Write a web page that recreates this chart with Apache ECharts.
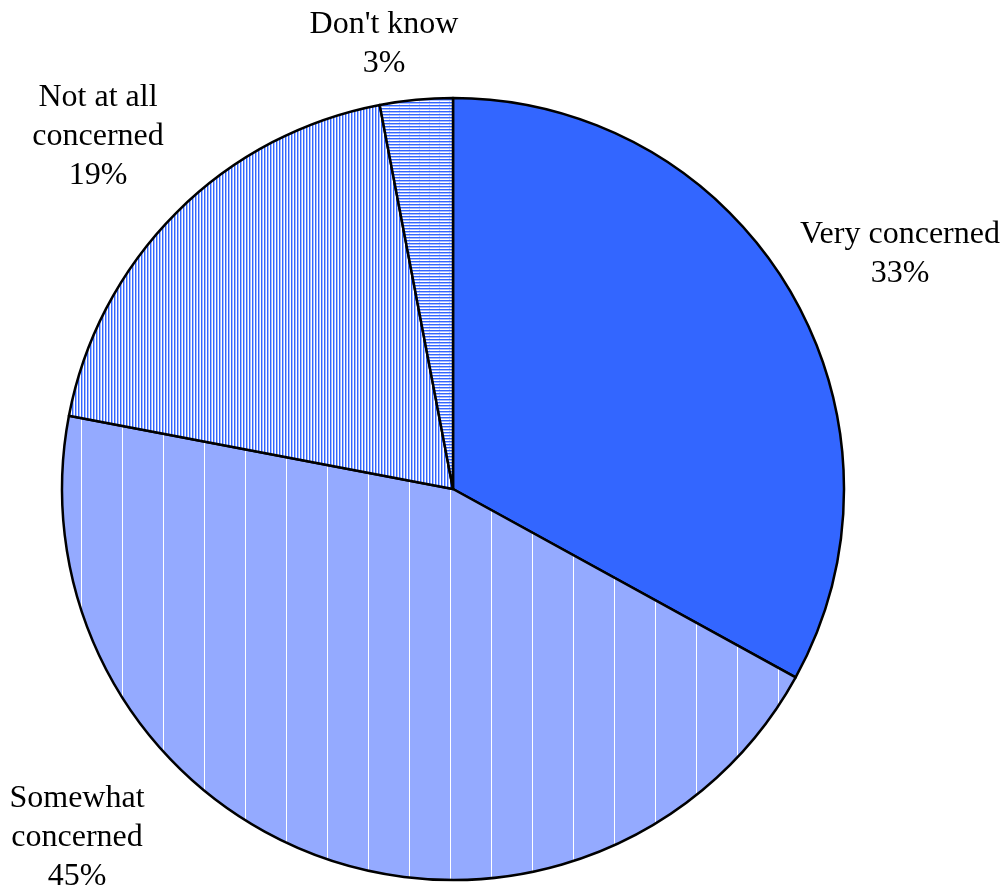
<!DOCTYPE html>
<html><head><meta charset="utf-8">
<script src="https://cdn.jsdelivr.net/npm/echarts@6/dist/echarts.min.js"></script>
<style>html,body{margin:0;padding:0;background:#fff}#c{width:1006px;height:890px}</style>
</head><body><div id="c"></div>
<script>
const categories = ["Very concerned", "Somewhat concerned", "Not at all concerned", "Don't know"];
const values = [33, 45, 19, 3];
const labelTexts = ["Very concerned\n33%", "Somewhat\nconcerned\n45%", "Not at all\nconcerned\n19%", "Don't know\n3%"];

const BLUE = '#3366ff';
function makeCanvas(w, h, draw) {
  const c = document.createElement('canvas'); c.width = w; c.height = h;
  const ctx = c.getContext('2d'); draw(ctx); return c;
}
// Somewhat: light blue fill with white vertical lines every 41px
const somewhatPat = makeCanvas(41, 1, ctx => {
  ctx.fillStyle = '#94aaff'; ctx.fillRect(0, 0, 41, 1);
  ctx.fillStyle = '#ffffff'; ctx.fillRect(40, 0, 1, 1);
});
// Not at all: vertical stripes
const notPat = makeCanvas(3, 4, ctx => {
  ctx.fillStyle = '#ffffff'; ctx.fillRect(0, 0, 3, 4);
  ctx.fillStyle = BLUE; ctx.fillRect(0, 0, 1, 4);
  ctx.fillStyle = '#a8bcff'; ctx.fillRect(1, 0, 1, 4);
});
// Don't know: horizontal stripes
const dkPat = makeCanvas(10, 3, ctx => {
  ctx.fillStyle = '#ffffff'; ctx.fillRect(0, 0, 10, 3);
  ctx.fillStyle = BLUE; ctx.fillRect(0, 0, 10, 1);
  ctx.fillStyle = '#a8bcff'; ctx.fillRect(0, 1, 10, 1);
  ctx.fillStyle = '#c8d4ff'; ctx.fillRect(9, 2, 1, 1);
});
const fills = [BLUE, {image: somewhatPat, repeat: 'repeat'}, {image: notPat, repeat: 'repeat'}, {image: dkPat, repeat: 'repeat'}];
const labelPos = [[900, 254], [77, 838], [98, 137], [384, 44]];

const chart = echarts.init(document.getElementById('c'), null, {renderer: 'canvas'});
chart.setOption({
  animation: false,
  series: [{
    type: 'pie',
    center: [453, 489],
    radius: 391,
    startAngle: 90,
    clockwise: true,
    data: categories.map((n, i) => ({
      name: n, value: values[i],
      itemStyle: {color: fills[i]},
      label: {formatter: labelTexts[i]}
    })),
    itemStyle: {borderColor: '#000', borderWidth: 2.5},
    label: {
      show: true, position: 'outside', overflow: 'none',
      fontFamily: 'Liberation Serif', fontSize: 32, color: '#000',
      lineHeight: 39, align: 'center'
    },
    labelLine: {show: false},
    labelLayout: function (p) {
      const pos = labelPos[p.dataIndex];
      return {x: pos[0], y: pos[1], align: 'center', verticalAlign: 'middle'};
    },
    emphasis: {disabled: true}
  }]
});
</script></body></html>
